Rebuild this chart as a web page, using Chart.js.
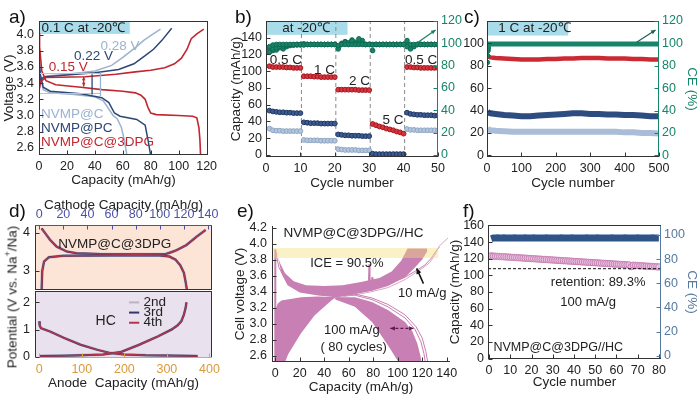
<!DOCTYPE html>
<html>
<head>
<meta charset="utf-8">
<script src="https://cdn.jsdelivr.net/npm/chart.js@4.4.1/dist/chart.umd.min.js"></script>
<style>
  body { margin:0; width:700px; height:396px; position:relative; overflow:hidden; background:#fff; font-family:"Liberation Sans", Arial, sans-serif; }
  canvas { position:absolute; }
  .tag { position:absolute; font-size:19px; line-height:1; color:#111; }
  .vlab { position:absolute; font-size:13.5px; line-height:1; color:#222; white-space:nowrap; transform:translate(-50%,-50%) rotate(-90deg); }
</style>
</head>
<body>
<canvas id="pa"></canvas>
<canvas id="pb"></canvas>
<canvas id="pc"></canvas>
<canvas id="pd1"></canvas>
<canvas id="pd2"></canvas>
<canvas id="pe"></canvas>
<canvas id="pf"></canvas>
<div class="tag" style="left:9px;top:7px">a)</div>
<div class="tag" style="left:235px;top:7px">b)</div>
<div class="tag" style="left:464px;top:7px">c)</div>
<div class="tag" style="left:9px;top:201px">d)</div>
<div class="tag" style="left:237px;top:201px">e)</div>
<div class="tag" style="left:463px;top:201px">f)</div>
<div class="vlab" style="left:11px;top:297px">Potential (V vs. Na<sup style="font-size:9px">+</sup>/Na)</div>
<script>
const FONT = '"Liberation Sans", Arial, sans-serif';
const INK = '#222';
const C_LIGHT = '#9cb3cf', C_NAVY = '#2c4676', C_RED = '#c3262f', C_TEAL = '#17846a';
const C_PINK = '#c77fb4', C_CYAN = '#a8dcea', C_SLATE = '#56799f';

// ---------- a) voltage profiles at 0.1 C, -20 C  [capacity, voltage]
const aTicksX = [0, 20, 40, 60, 80, 100, 120];
const aTicksY = [2.6, 2.8, 3.0, 3.2, 3.4, 3.6, 3.8, 4.0];
const aRedCharge = [[0,3.3],[1,3.42],[5,3.47],[33,3.48],[55,3.51],[69,3.54],[80,3.56],[90,3.59],[97,3.64],[102,3.71],[106,3.82],[109,3.95],[113,4.01],[118,4.07]];
const aRedDischarge = [[0,4.02],[0.4,3.85],[2,3.55],[5,3.43],[12,3.38],[30,3.35],[45,3.32],[60,3.3],[69,3.28],[73,3.25],[76,3.2],[78,3.1],[80,3.03],[84,3.01],[100,3.0],[110,2.99],[113,2.97],[114.5,2.85],[115.2,2.7],[115.7,2.5]];
const aNavyCharge = [[0,3.3],[1,3.45],[5,3.48],[20,3.5],[40,3.53],[57,3.57],[68,3.64],[76,3.74],[82,3.82],[88,3.93],[95,4.08]];
const aNavyDischarge = [[0,3.72],[1,3.5],[3,3.35],[8,3.3],[30,3.27],[45,3.22],[50,3.16],[54,3.03],[58,2.99],[70,2.95],[76,2.88],[78,2.7],[80,2.5]];
const aLightCharge = [[0,3.3],[1,3.46],[5,3.49],[20,3.51],[40,3.55],[52,3.62],[60,3.72],[69,3.84],[75,3.93],[81,4.0],[87,4.07]];
const aLightDischarge = [[0,3.76],[1,3.5],[3,3.32],[8,3.28],[25,3.26],[40,3.23],[46,3.18],[50,3.08],[53,3.0],[56,2.96],[59,2.85],[61,2.7],[63,2.5]];

// ---------- b) rate capability, 10 cycles per rate
const bTicksX = [0, 10, 20, 30, 40, 50];
const bTicksY = [0, 20, 40, 60, 80, 100, 120, 140];
const bTicksCE = [0, 20, 40, 60, 80, 100, 120];
const bRates = ['0.5 C', '1 C', '2 C', '5 C', '0.5 C'];
const bSplits = [10.3, 20.3, 30.3, 40.3];
const bCycles = Array.from({length: 50}, (_, i) => i + 1);
const bRed = [106,105,105,105,105,104.5,104.5,104,104,104, 94,94,94,93.5,93.5,93,93,93,93,93, 78,78,78,78,78,78,77.5,77.5,77.5,77.5, 37,35.5,34,33,31.5,30.5,29.5,28,27,25.5, 105,105,104.5,104.5,104,104,104,104,104,104];
const bNavy = [53,52,51.5,51,51,50.5,50.5,50,50,50, 39,38.5,38,38,38,37.5,37.5,37.5,37.5,37.5, 24.5,24,23.5,23.5,23,23,23,22.5,22.5,22.5, 1.5,1,1,1,1,1,1,1,1,1, 50.5,49,48.5,48,48,47.5,47.5,47.5,47,47];
const bLight = [31.5,29.5,29,29,28.5,28.5,28.5,28.5,28.5,28.5, 18,17.5,17.5,17.5,17.5,17,17,17,17,17, 7,6.5,6,6,6,6,5.5,5.5,5.5,5.5, 0.5,0.5,0.5,0.5,0.5,0.5,0.5,0.5,0.5,0.5, 31,30,30,29.5,29.5,29.5,29.5,29.5,29.5,29.5];
const bCeRed = [97,98.5,99,99,99,99,99,99,99,99, 98.5,99,99,99,99,99,99,99,99,99, 98,99,99,99,99,99,99,99,99,99, 98.5,99,99,99,99,99,99,99,99,99, 97,99,99,99,99,99,99,99,99,99];
const bCeNavy = [92,95,96,97,97.5,98,98.5,98.5,98.5,98.5, 99,99,99,99,99,99,99,99,99,99, 95,99,101,100.5,102,99.5,104,100,99,99, 93.5,99,99,99,99,99,99,99,99,99, 102.5,95,97,99,99,99,99,99,99,99];
const bCeLight = [95,93.5,94,96,95,97,98,98.5,99,99, 99.5,99,99,99,99,99,99,99,99,99, 97,100,101.5,99,103,101,99.5,102.5,99,99, 99,99,99,99,99,99,99,99,99,99, 99,96,97.5,99,99,99,99,99,99,99];

// ---------- c) long cycling at 1 C, -20 C
const cTicksX = [0, 100, 200, 300, 400, 500];
const cTicksY = [0, 20, 40, 60, 80, 100];
const cTicksCE = [0, 20, 40, 60, 80, 100, 120];
const cCycles = [1,5,10,25,50,75,100,125,150,175,200,225,250,275,300,325,350,375,400,425,450,475,500];
const cRed = [89,88,87.5,87,86.5,86,85.5,85.5,85.5,86,86,86.5,86.5,87,87,87,86.5,86.5,86.5,86,86,85.5,85.5];
const cNavy = [39,38,37.5,37,36,35.5,35,35,35.5,36,36.5,37,37.5,37.5,37,37,36.5,36.5,36,36,35.5,35,35];
const cLight = [24,23,22.5,22,21.5,21,21,21,21,21,21,21,21,21,21,21,21,21,20.5,20.5,20,20,19.5];
const cCE = [97,99.5,99.5,99.5,99.5,99.5,99.5,99.5,99.5,99.5,99.5,99.5,99.5,99.5,99.5,99.5,99.5,99.5,99.5,99.5,99.5,99.5,99.5];
const cCEStart = [[1,83],[2,89],[3,93.5],[4,96]];

// ---------- d) half cells: cathode (top) and hard carbon anode (bottom)
const dTicksCat = [0, 20, 40, 60, 80, 100, 120, 140];
const dTicksCatY = [3, 4];
const dTicksAn = [0, 100, 200, 300, 400];
const dTicksAnY = [0, 1, 2];
const dCycles = ['2nd', '3rd', '4th'];
const dCatUpper = [[2,4.12],[4.8,4.0],[9,3.82],[14.5,3.64],[23,3.51],[31,3.47],[50,3.45],[80,3.44],[105,3.45],[110,3.5],[114,3.55],[122,3.68],[130.5,3.9],[138,4.08]];
const dCatLower = [[2,2.5],[2.5,3.0],[4,3.25],[8,3.36],[20,3.4],[60,3.41],[100,3.41],[108,3.38],[113,3.3],[117,3.15],[120,2.95],[121.5,2.7],[122.5,2.5]];
const dAnDis = [[0,1.3],[1,1.15],[4,1.05],[26,0.92],[58,0.69],[97,0.44],[137,0.25],[168,0.13],[200,0.08],[250,0.05],[300,0.04],[340,0.03],[372,0.02]];
const dAnCh = [[0,0.02],[50,0.03],[100,0.05],[150,0.08],[192,0.17],[232,0.42],[279,0.75],[311,1.0],[325,1.15],[334,1.31],[340,1.55],[344,1.8],[346,2.0]];

// ---------- e) full cell, 80 cycles at 100 mA/g (envelopes of the curve bundle)
const eTicksX = [0, 20, 40, 60, 80, 100, 120, 140];
const eTicksY = [2.6, 2.8, 3.0, 3.2, 3.4, 3.6, 3.8, 4.0, 4.2];
const eBandUpper = [[0,3.93],[4,3.75],[8,3.63],[15,3.53],[25,3.48],[40,3.47],[55,3.48],[70,3.52],[85,3.57],[95,3.65],[103,3.79],[108,3.94],[124,3.94],[124,3.9],[120,3.8],[114,3.7],[106,3.58],[92,3.47],[79,3.41],[65,3.37],[49,3.33],[35,3.35],[20,3.39],[10,3.48],[5,3.63],[1.5,3.88]];
const eBandLowLeft = [[0,3.17],[2,3.25],[5,3.29],[21,3.33],[35,3.34],[49,3.33],[43,3.25],[32,3.1],[21,2.88],[10.6,2.62],[8,2.52],[0,2.52]];
const eBandLowRight = [[49,3.33],[65,3.33],[79,3.27],[92,3.17],[106,3.02],[112,2.9],[116,2.75],[118.5,2.6],[119.5,2.52],[100.6,2.52],[92,2.73],[79,3.02],[65,3.21],[49,3.3]];
const eFirstDis = [[0,3.92],[3,3.7],[10,3.5],[25,3.4],[45,3.36],[65,3.355],[79,3.3],[92,3.21],[106,3.07],[114,2.93],[119,2.77],[121.5,2.62],[122.5,2.52]];
const eSecondDis = [[49,3.35],[65,3.37],[79,3.32],[92,3.24],[106,3.11],[115,2.96],[120,2.82],[123,2.65],[124.5,2.52]];
const eFirstCh = [[0,2.98],[5,3.2],[15,3.28],[30,3.3],[49,3.32],[65,3.36],[79,3.4],[92,3.45],[106,3.55],[114,3.63],[120,3.69],[126,3.76],[130,3.85],[134,3.97],[141,4.07]];
const eSecondCh = [[0,3.03],[5,3.23],[20,3.3],[49,3.33],[79,3.42],[106,3.58],[116,3.67],[122,3.73],[127,3.81],[131,3.9],[134,3.96]];
const eLeftEdge = [[0,2.52],[0,3.93]];
const eGlitch = [[74,3.5],[76,3.51],[76.6,3.74],[77.2,3.51],[78.5,3.53],[79,3.58],[79.6,3.53],[81,3.55],[82,3.53]];

// ---------- f) full cell cycling, 100 mA/g
const fTicksX = [0, 10, 20, 30, 40, 50, 60, 70, 80];
const fTicksY = [0, 20, 40, 60, 80, 100, 120, 140, 160];
const fTicksCE = [0, 20, 40, 60, 80, 100];
const fCycles = Array.from({length: 80}, (_, i) => i + 1);
const fCap = [123.5,123,123,122.8,122.6,122.5,122.3,122.1,122,121.8, 121.6,121.5,121.3,121.1,121,120.8,120.6,120.5,120.3,120.1, 120,119.8,119.6,119.5,119.3,119.1,119,118.8,118.6,118.5, 118.3,118.1,118,117.8,117.6,117.5,117.3,117.1,117,116.8, 116.6,116.5,116.3,116.1,116,115.8,115.6,115.5,115.3,115.1, 115,114.8,114.6,114.5,114.3,114.1,114,113.8,113.6,113.5, 113.3,113.1,113,112.8,112.6,112.5,110.5,112.2,112,111.8, 111.6,111.5,111.3,111.1,111,110.8,110.6,110.5,110.3,110.1];
const fCE = [96.8,97.4,97.5,97.6,97.5,97.5,97.6,97.5,97.4,97.5, 97.5,97.6,97.5,97.5,97.4,97.5,97.6,97.5,97.5,97.5, 97.6,97.5,97.5,97.4,97.5,97.5,97.6,97.5,97.5,97.5, 97.5,97.4,97.5,97.6,97.5,97.5,97.5,97.5,97.6,97.5, 97.5,97.5,97.4,97.5,97.5,97.6,97.5,97.5,97.5,97.5, 97.6,97.5,97.5,97.5,97.4,97.5,97.5,97.6,97.5,97.5, 97.5,97.5,97.5,97.6,97.5,97.4,97.5,97.5,97.5,97.6, 97.5,97.5,97.5,97.5,97.4,97.5,97.6,97.5,97.5,97.5];
const fRetentionLine = 108;

// ---------- helpers
const pts = arr => arr.map(p => ({x: p[0], y: p[1]}));
const xy = (xs, ys) => ys.map((v, i) => ({x: xs[i], y: v}));
const f1 = v => v.toFixed(1);

function axis(o) {
  const horiz = o.pos === 'top' || o.pos === 'bottom';
  return {
    type: 'linear', position: o.pos, min: o.min, max: o.max,
    afterBuildTicks: s => { s.ticks = o.ticks.map(v => ({value: v})); },
    afterFit: s => {
      if (horiz) s.height = o.size; else s.width = o.size;
      s.paddingTop = s.paddingBottom = s.paddingLeft = s.paddingRight = 0;
    },
    grid: {display: false, drawTicks: false},
    border: {display: false},
    ticks: {color: o.color || INK, font: {family: FONT, size: 12.5}, padding: o.tp == null ? 4 : o.tp,
            maxRotation: 0, minRotation: 0, autoSkip: false, callback: o.fmt || (v => String(v))},
    title: {display: !!o.title, text: o.title, color: o.tcolor || INK, font: {family: FONT, size: 13.5},
            padding: {top: o.ttp || 0, bottom: o.tbp || 0}}
  };
}

function arrowHead(ctx, a, b, c, s) {
  const ang = Math.atan2(b[1] - a[1], b[0] - a[0]);
  ctx.fillStyle = c;
  ctx.beginPath();
  ctx.moveTo(b[0], b[1]);
  ctx.lineTo(b[0] - s * Math.cos(ang - 0.45), b[1] - s * Math.sin(ang - 0.45));
  ctx.lineTo(b[0] - s * Math.cos(ang + 0.45), b[1] - s * Math.sin(ang + 0.45));
  ctx.closePath();
  ctx.fill();
}

function drawItems(chart, items) {
  if (!items) return;
  const ctx = chart.ctx;
  items.forEach(it => {
    const xs = chart.scales[it.xs || 'x'], ys = chart.scales[it.ys || 'y'];
    const X = v => xs.getPixelForValue(v), Y = v => ys.getPixelForValue(v);
    ctx.save();
    if (it.t === 'text') {
      ctx.font = (it.size || 13) + 'px ' + FONT;
      ctx.fillStyle = it.c || INK;
      ctx.textAlign = it.al || 'center';
      ctx.textBaseline = 'middle';
      ctx.fillText(it.s, X(it.x), Y(it.y));
    } else if (it.t === 'rect') {
      const x0 = X(it.x[0]), x1 = X(it.x[1]), y0 = Y(it.y[0]), y1 = Y(it.y[1]);
      if (it.fill) { ctx.fillStyle = it.fill; ctx.fillRect(x0, y1, x1 - x0, y0 - y1); }
      if (it.stroke) { ctx.strokeStyle = it.stroke; ctx.lineWidth = 1; ctx.strokeRect(Math.round(x0) + 0.5, Math.round(y1) + 0.5, Math.round(x1 - x0), Math.round(y0 - y1)); }
    } else if (it.t === 'line') {
      const P = it.p.map(q => [X(q[0]), Y(q[1])]);
      ctx.strokeStyle = it.c; ctx.lineWidth = it.w || 1; ctx.setLineDash(it.dash || []);
      ctx.beginPath();
      P.forEach((q, i) => i ? ctx.lineTo(q[0], q[1]) : ctx.moveTo(q[0], q[1]));
      ctx.stroke();
      ctx.setLineDash([]);
      if (it.head) arrowHead(ctx, P[P.length - 2], P[P.length - 1], it.c, it.hs || 6);
      if (it.head === 'both') arrowHead(ctx, P[1], P[0], it.c, it.hs || 6);
    }
    ctx.restore();
  });
}

// one plugin per chart, decoration kept in the closure (not in chart options)
function decoPlugin(o) {
  return {
    id: 'deco',
    beforeDatasetsDraw(chart) {
      const {ctx, chartArea: a} = chart;
      if (o.bg) { ctx.save(); ctx.fillStyle = o.bg; ctx.fillRect(a.left, a.top, a.width, a.height); ctx.restore(); }
      drawItems(chart, o.under);
    },
    afterDatasetsDraw(chart) {
      drawItems(chart, o.over);
      const {ctx, chartArea: a} = chart;
      const e = o.edges || {};
      const L = Math.round(a.left) + 0.5, R = Math.round(a.right) - 0.5, T = Math.round(a.top) + 0.5, B = Math.round(a.bottom) - 0.5;
      ctx.save();
      ctx.lineWidth = 1;
      const seg = (c, x1, y1, x2, y2) => { if (!c) return; ctx.strokeStyle = c; ctx.beginPath(); ctx.moveTo(x1, y1); ctx.lineTo(x2, y2); ctx.stroke(); };
      seg(e.left, L, T - 0.5, L, B + 0.5);
      seg(e.right, R, T - 0.5, R, B + 0.5);
      seg(e.top, L - 0.5, T, R + 0.5, T);
      seg(e.bottom, L - 0.5, B, R + 0.5, B);
      Object.values(chart.scales).forEach(s => {
        const c = e[s.position];
        if (!c) return;
        ctx.strokeStyle = c;
        s.ticks.forEach(t => {
          const p = Math.round(s.getPixelForValue(t.value)) + 0.5;
          ctx.beginPath();
          if (s.position === 'left') { ctx.moveTo(L, p); ctx.lineTo(L + 4, p); }
          else if (s.position === 'right') { ctx.moveTo(R, p); ctx.lineTo(R - 4, p); }
          else if (s.position === 'bottom') { ctx.moveTo(p, B); ctx.lineTo(p, B - 4); }
          else { ctx.moveTo(p, T); ctx.lineTo(p, T + 4); }
          ctx.stroke();
        });
      });
      ctx.restore();
    }
  };
}

function panel(id, g, datasets, scales, deco) {
  const cv = document.getElementById(id);
  cv.width = g.w; cv.height = g.h;
  cv.style.left = g.l + 'px'; cv.style.top = g.t + 'px';
  return new Chart(cv, {
    type: 'scatter',
    data: {datasets},
    options: {
      responsive: false, animation: false, devicePixelRatio: 1, events: [],
      layout: {padding: g.pad, autoPadding: false},
      plugins: {legend: {display: false}, tooltip: {enabled: false}},
      scales
    },
    plugins: [decoPlugin(deco)]
  });
}

const line = (data, color, w, extra) => Object.assign({data, showLine: true, borderColor: color, backgroundColor: color, borderWidth: w, pointRadius: 0, tension: 0, fill: false}, extra || {});
const dots = (data, fill, edge, r, extra) => Object.assign({data, showLine: false, backgroundColor: fill, borderColor: edge, borderWidth: 1, pointRadius: r}, extra || {});
const FRAME = '#333';

// ---------- a
panel('pa', {l: 0, t: 0, w: 228, h: 197, pad: {left: 0, top: 21, right: 20, bottom: 9}}, [
  line(pts(aRedCharge), C_RED, 1.6),
  line(pts(aRedDischarge), C_RED, 1.6),
  line(pts(aNavyCharge), C_NAVY, 1.5),
  line(pts(aNavyDischarge), C_NAVY, 1.5),
  line(pts(aLightCharge), C_LIGHT, 1.5),
  line(pts(aLightDischarge), C_LIGHT, 1.5)
], {
  x: axis({pos: 'bottom', min: 0, max: 121, ticks: aTicksX, size: 33, title: 'Capacity (mAh/g)'}),
  y: axis({pos: 'left', min: 2.51, max: 4.17, ticks: aTicksY, size: 39, fmt: f1, title: 'Voltage (V)', ttp: 1, tp: 5})
}, {
  edges: {left: FRAME, right: FRAME, top: FRAME, bottom: FRAME},
  under: [{t: 'rect', x: [0, 65], y: [4.01, 4.16], fill: C_CYAN}],
  over: [
    {t: 'text', s: '0.1 C at -20℃', x: 1.8, y: 4.085, al: 'left', size: 13.5},
    {t: 'rect', x: [0, 44], y: [3.27, 3.52], stroke: '#a9c7df'},
    {t: 'line', p: [[32, 3.36], [32, 3.48]], c: C_RED, w: 1.3, head: 'both', hs: 4},
    {t: 'line', p: [[38, 3.26], [38, 3.51]], c: C_NAVY, w: 1.3},
    {t: 'line', p: [[44, 3.24], [44, 3.53]], c: C_LIGHT, w: 1.3},
    {t: 'text', s: '0.28 V', x: 58, y: 3.855, c: C_LIGHT, size: 13.5},
    {t: 'text', s: '0.22 V', x: 39, y: 3.73, c: C_NAVY, size: 13.5},
    {t: 'text', s: '0.15 V', x: 21, y: 3.6, c: C_RED, size: 13.5},
    {t: 'text', s: 'NVMP@C', x: 1.5, y: 3.01, c: C_LIGHT, al: 'left', size: 13.5},
    {t: 'text', s: 'NVMP@PC', x: 1.5, y: 2.84, c: C_NAVY, al: 'left', size: 13.5},
    {t: 'text', s: 'NVMP@C@3DPG', x: 1.5, y: 2.665, c: C_RED, al: 'left', size: 13.5}
  ]
});

// ---------- b
const bRateAt = [[5.8, 113.6], [17, 101.7], [27.2, 87.7], [36.9, 41.9], [45.1, 113.6]];
panel('pb', {l: 228, t: 0, w: 236, h: 197, pad: {left: 0, top: 21, right: 0, bottom: 6}}, [
  dots(xy(bCycles, bCeRed), C_TEAL, '#0f6a52', 2.3, {yAxisID: 'y2'}),
  dots(xy(bCycles, bCeNavy), C_TEAL, '#0f6a52', 2.3, {yAxisID: 'y2'}),
  dots(xy(bCycles, bCeLight), C_TEAL, '#0f6a52', 2.3, {yAxisID: 'y2'}),
  dots(xy(bCycles, bRed), '#d8343c', '#a3161f', 2.4),
  dots(xy(bCycles, bNavy), '#3d5c93', '#1e3562', 2.4),
  dots(xy(bCycles, bLight), '#b3c6de', '#8da5c3', 2.4)
], {
  x: axis({pos: 'bottom', min: 0, max: 50, ticks: bTicksX, size: 34, title: 'Cycle number'}),
  y: axis({pos: 'left', min: -2.4, max: 160, ticks: bTicksY, size: 38, title: 'Capacity (mAh/g)', ttp: 0}),
  y2: axis({pos: 'right', min: -1.8, max: 120, ticks: bTicksCE, size: 26, color: C_TEAL, tp: 3})
}, {
  edges: {left: FRAME, right: C_TEAL, top: FRAME, bottom: FRAME},
  under: [
    {t: 'rect', x: [0, 23.7], y: [143.5, 159.4], fill: C_CYAN},
    ...bSplits.map(v => ({t: 'line', p: [[v, -2.4], [v, 160]], c: '#8a8a8a', dash: [4, 3]}))
  ],
  over: [
    {t: 'text', s: 'at -20℃', x: 11.6, y: 151.5, size: 13.5},
    ...bRates.map((s, i) => ({t: 'text', s, x: bRateAt[i][0], y: bRateAt[i][1], size: 13.5})),
    {t: 'line', p: [[44, 100.5], [49.3, 112]], c: C_TEAL, w: 1.3, head: 'end', hs: 5, ys: 'y2'}
  ]
});

// ---------- c
panel('pc', {l: 462, t: 0, w: 238, h: 197, pad: {left: 0, top: 21, right: 0, bottom: 6}}, [
  line(xy(cCycles, cCE), C_TEAL, 5, {yAxisID: 'y2'}),
  dots(pts(cCEStart), C_TEAL, '#0f6a52', 2.3, {yAxisID: 'y2'}),
  line(xy(cCycles, cRed), '#cc2a33', 4.5),
  line(xy(cCycles, cNavy), '#2f4c80', 6),
  line(xy(cCycles, cLight), '#a9bdd8', 6)
], {
  x: axis({pos: 'bottom', min: 0, max: 500, ticks: cTicksX, size: 34, title: 'Cycle number'}),
  y: axis({pos: 'left', min: -1.5, max: 120, ticks: cTicksY, size: 25, tp: 3}),
  y2: axis({pos: 'right', min: -1.5, max: 120, ticks: cTicksCE, size: 41, color: C_TEAL, tp: 3, title: 'CE (%)', tcolor: C_TEAL})
}, {
  edges: {left: FRAME, right: C_TEAL, top: FRAME, bottom: FRAME},
  under: [{t: 'rect', x: [0, 236], y: [107, 120], fill: C_CYAN}],
  over: [
    {t: 'text', s: '1 C at -20℃', x: 33, y: 113.5, al: 'left', size: 13.5},
    {t: 'line', p: [[435, 101], [490, 112]], c: '#1f5e58', w: 1.2, head: 'end', hs: 5, ys: 'y2'}
  ]
});

// ---------- d (top: cathode)
const dColors = ['#bdb2c6', '#2b3a68', '#b8344a'];
const dWidths = [3, 2, 1.4];
const dOrder = [2, 1, 0];
panel('pd1', {l: 0, t: 197, w: 228, h: 93, pad: {left: 0, top: 0, right: 16, bottom: 0}},
  dCycles.flatMap((c, i) => [
    line(pts(dCatUpper), dColors[i], dWidths[i], {order: dOrder[i]}),
    line(pts(dCatLower), dColors[i], dWidths[i], {order: dOrder[i]})
  ]), {
  x: axis({pos: 'top', min: -3.5, max: 143.3, ticks: dTicksCat, size: 28, color: '#4c50a8', title: 'Cathode Capacity (mAh/g)', tp: 3}),
  y: axis({pos: 'left', min: 2.5, max: 4.21, ticks: dTicksCatY, size: 35, tp: 5})
}, {
  bg: '#fce4d7',
  edges: {left: FRAME, right: FRAME, top: '#4c50a8', bottom: FRAME},
  over: [{t: 'text', s: 'NVMP@C@3DPG', x: 62.7, y: 3.69, size: 13.5}]
});

// ---------- d (bottom: anode)
panel('pd2', {l: 0, t: 290, w: 228, h: 106, pad: {left: 0, top: 1, right: 16, bottom: 5}},
  dCycles.flatMap((c, i) => [
    line(pts(dAnDis), dColors[i], dWidths[i], {order: dOrder[i]}),
    line(pts(dAnCh), dColors[i], dWidths[i], {order: dOrder[i]})
  ]), {
  x: axis({pos: 'bottom', min: -10, max: 406, ticks: dTicksAn, size: 33, color: '#d99a3c', title: 'Anode  Capacity (mAh/g)'}),
  y: axis({pos: 'left', min: -0.05, max: 2.42, ticks: dTicksAnY, size: 35, tp: 5})
}, {
  bg: '#e9e2ee',
  edges: {left: FRAME, right: FRAME, top: FRAME, bottom: '#e3a54a'},
  over: [
    ...dCycles.map((s, i) => ({t: 'line', p: [[211, 2.0 - i * 0.375], [235, 2.0 - i * 0.375]], c: dColors[i], w: 2})),
    ...dCycles.map((s, i) => ({t: 'text', s, x: 245, y: 2.0 - i * 0.375, al: 'left', size: 13.5})),
    {t: 'text', s: 'HC', x: 156, y: 1.3, size: 14}
  ]
});

// ---------- e
panel('pe', {l: 228, t: 197, w: 232, h: 199, pad: {left: 0, top: 29, right: 10, bottom: 1}}, [
  line(pts(eGlitch), C_PINK, 1, {order: 0}),
  line(pts(eBandUpper), C_PINK, 0, {order: 1, fill: 'shape', backgroundColor: C_PINK}),
  line(pts(eBandLowLeft), C_PINK, 0, {order: 1, fill: 'shape', backgroundColor: C_PINK}),
  line(pts(eBandLowRight), C_PINK, 0, {order: 1, fill: 'shape', backgroundColor: C_PINK}),
  line(pts(eLeftEdge), C_PINK, 2, {order: 2}),
  line(pts(eFirstDis), C_PINK, 1, {order: 3}),
  line(pts(eSecondDis), C_PINK, 1, {order: 3}),
  line(pts(eFirstCh), '#d6a8c4', 1, {order: 3}),
  line(pts(eSecondCh), C_PINK, 1, {order: 3})
], {
  x: axis({pos: 'bottom', min: -2.7, max: 142.7, ticks: eTicksX, size: 33, title: 'Capacity (mAh/g)'}),
  y: axis({pos: 'left', min: 2.52, max: 4.22, ticks: eTicksY, size: 44, fmt: f1, title: 'Cell voltage (V)', ttp: 4, tp: 5})
}, {
  edges: {left: FRAME, bottom: FRAME},
  over: [
    {t: 'rect', x: [-2.7, 133], y: [3.82, 3.945], fill: 'rgba(242,222,118,0.42)'},
    {t: 'text', s: 'NVMP@C@3DPG//HC', x: 63.9, y: 4.125, size: 13.5},
    {t: 'text', s: 'ICE = 90.5%', x: 58.5, y: 3.75, size: 13},
    {t: 'text', s: '10 mA/g', x: 120, y: 3.38, size: 13},
    {t: 'line', p: [[121, 3.5], [115.5, 3.69]], c: '#111', w: 1.5, head: 'end', hs: 6},
    {t: 'text', s: '100 mA/g', x: 62.5, y: 2.92, size: 13},
    {t: 'text', s: '( 80 cycles)', x: 64, y: 2.7, size: 13},
    {t: 'line', p: [[94, 2.94], [113, 2.94]], c: '#5a1a4a', w: 1.2, dash: [3, 2], head: 'both', hs: 5}
  ]
});

// ---------- f
panel('pf', {l: 445, t: 197, w: 255, h: 199, pad: {left: 0, top: 28, right: 0, bottom: 6}}, [
  line(xy(fCycles, fCE), '#2f5488', 7, {yAxisID: 'y2'}),
  dots(xy(fCycles, fCap), '#ebc3df', '#c77fb4', 3.2)
], {
  x: axis({pos: 'bottom', min: -0.5, max: 81, ticks: fTicksX, size: 31, title: 'Cycle number'}),
  y: axis({pos: 'left', min: -0.5, max: 160.5, ticks: fTicksY, size: 43, title: 'Capacity (mAh/g)', ttp: 2}),
  y2: axis({pos: 'right', min: -2.7, max: 108.2, ticks: fTicksCE, size: 39, color: C_SLATE, tp: 3, title: 'CE (%)', tcolor: C_SLATE})
}, {
  edges: {left: FRAME, right: C_SLATE, top: FRAME, bottom: FRAME},
  over: [
    {t: 'line', p: [[-0.5, fRetentionLine], [81, fRetentionLine]], c: '#111', w: 1, dash: [3, 2]},
    {t: 'text', s: 'retention: 89.3%', x: 51.4, y: 91, size: 13},
    {t: 'text', s: '100 mA/g', x: 46.7, y: 67, size: 13},
    {t: 'text', s: 'NVMP@C@3DPG//HC', x: 32.6, y: 13, size: 12.5}
  ]
});
</script>
</body>
</html>
